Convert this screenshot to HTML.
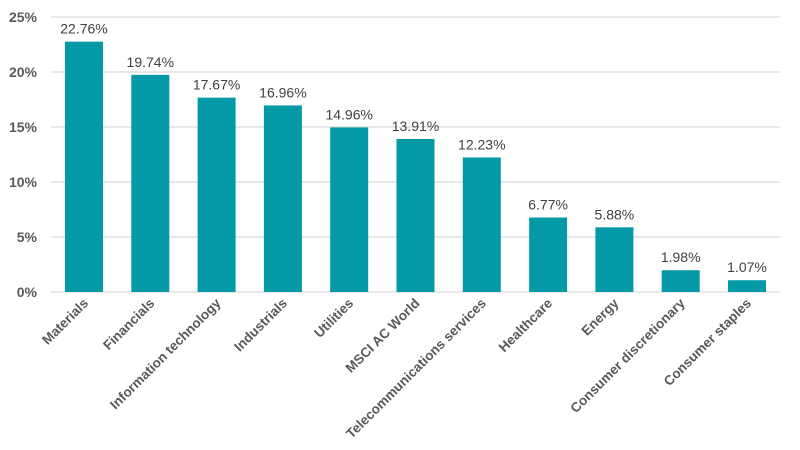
<!DOCTYPE html>
<html><head><style>body{margin:0;background:#fff}svg{display:block}</style></head><body>
<svg width="800" height="450" xmlns="http://www.w3.org/2000/svg" font-family="Liberation Sans, sans-serif">
<g stroke="#d9d9d9" stroke-width="1.3">
<line x1="51" x2="780" y1="17" y2="17"/><line x1="51" x2="780" y1="72" y2="72"/><line x1="51" x2="780" y1="127" y2="127"/><line x1="51" x2="780" y1="182" y2="182"/><line x1="51" x2="780" y1="237" y2="237"/><line x1="51" x2="780" y1="292" y2="292"/>
</g>
<g font-size="14" font-weight="bold" fill="#595959" text-anchor="end">
<text x="37" y="22">25%</text><text x="37" y="77">20%</text><text x="37" y="132">15%</text><text x="37" y="187">10%</text><text x="37" y="242">5%</text><text x="37" y="297">0%</text>
</g>
<g id="bars" fill="#0399a6"></g>
<g id="vals" font-size="14" fill="#404040" text-anchor="middle"></g>
<g id="cats" font-size="13.5" font-weight="bold" fill="#595959" text-anchor="end"></g>
<script>
var d=[["Materials",22.76],["Financials",19.74],["Information technology",17.67],["Industrials",16.96],["Utilities",14.96],["MSCI AC World",13.91],["Telecommunications services",12.23],["Healthcare",6.77],["Energy",5.88],["Consumer discretionary",1.98],["Consumer staples",1.07]];
var ns="http://www.w3.org/2000/svg",b=document.getElementById("bars"),v=document.getElementById("vals"),c=document.getElementById("cats");
d.forEach(function(e,i){var cx=84+i*66.3,y=292-11*e[1];
var r=document.createElementNS(ns,"rect");r.setAttribute("x",cx-19);r.setAttribute("width",38);r.setAttribute("y",y);r.setAttribute("height",292-y);b.appendChild(r);
var t=document.createElementNS(ns,"text");t.setAttribute("x",cx);t.setAttribute("y",y-8);t.textContent=e[1].toFixed(2)+"%";v.appendChild(t);
var l=document.createElementNS(ns,"text");l.setAttribute("transform","translate("+(cx+5)+",304) rotate(-45)");l.textContent=e[0];c.appendChild(l);});
</script>
</svg>
</body></html>
